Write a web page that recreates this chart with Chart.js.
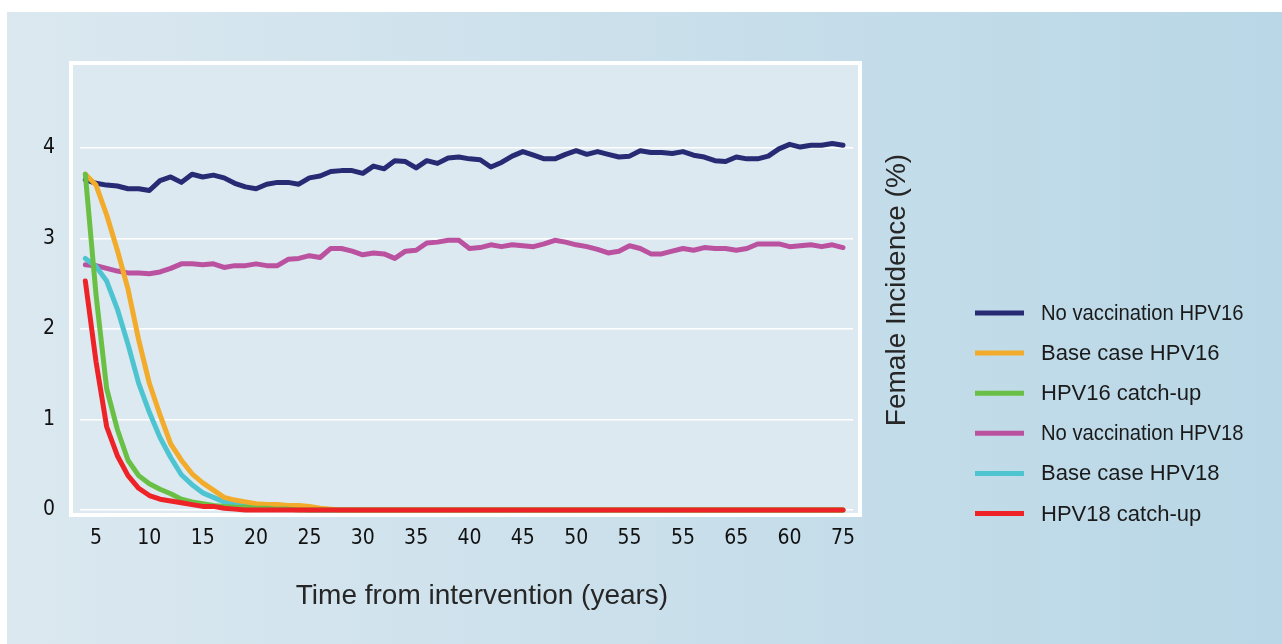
<!DOCTYPE html>
<html>
<head>
<meta charset="utf-8">
<script src="https://cdn.jsdelivr.net/npm/chart.js@4"></script>
<style>
  html, body { margin: 0; padding: 0; background: #fff; }
  #wrap { width: 1282px; height: 644px; position: relative; }
</style>
</head>
<body>
<div id="wrap"><canvas id="GraficoIncidencia"></canvas></div>
<script>
// years from intervention, one point per year
const years = [
  4, 5, 6, 7, 8, 9, 10, 11, 12, 13,
  14, 15, 16, 17, 18, 19, 20, 21, 22, 23,
  24, 25, 26, 27, 28, 29, 30, 31, 32, 33,
  34, 35, 36, 37, 38, 39, 40, 41, 42, 43,
  44, 45, 46, 47, 48, 49, 50, 51, 52, 53,
  54, 55, 56, 57, 58, 59, 60, 61, 62, 63,
  64, 65, 66, 67, 68, 69, 70, 71, 72, 73,
  74, 75
];

// tick positions and the labels as printed (yes, 55 twice and 65 before 60)
const tickYears = [5, 10, 15, 20, 25, 30, 35, 40, 45, 50, 55, 60, 65, 70, 75];
const tickLabels = ['5', '10', '15', '20', '25', '30', '35', '40', '45', '50', '55', '55', '65', '60', '75'];
const yTicks = [0, 1, 2, 3, 4];

const noVacc16 = [
  3.65, 3.61, 3.59, 3.58, 3.55, 3.55, 3.53, 3.64, 3.68, 3.62,
  3.71, 3.68, 3.70, 3.67, 3.61, 3.57, 3.55, 3.60, 3.62, 3.62,
  3.60, 3.67, 3.69, 3.74, 3.75, 3.75, 3.72, 3.80, 3.77, 3.86,
  3.85, 3.78, 3.86, 3.83, 3.89, 3.90, 3.88, 3.87, 3.79, 3.84,
  3.91, 3.96, 3.92, 3.88, 3.88, 3.93, 3.97, 3.93, 3.96, 3.93,
  3.90, 3.91, 3.97, 3.95, 3.95, 3.94, 3.96, 3.92, 3.90, 3.86,
  3.85, 3.90, 3.88, 3.88, 3.91, 3.99, 4.04, 4.01, 4.03, 4.03,
  4.05, 4.03
];
const baseCase16 = [
  3.71, 3.59, 3.26, 2.87, 2.44, 1.88, 1.40, 1.05, 0.73, 0.55,
  0.40, 0.30, 0.22, 0.14, 0.11, 0.09, 0.07, 0.06, 0.06, 0.05,
  0.05, 0.04, 0.02, 0.01, 0, 0, 0, 0, 0, 0,
  0, 0, 0, 0, 0, 0, 0, 0, 0, 0,
  0, 0, 0, 0, 0, 0, 0, 0, 0, 0,
  0, 0, 0, 0, 0, 0, 0, 0, 0, 0,
  0, 0, 0, 0, 0, 0, 0, 0, 0, 0,
  0, 0
];
const catchUp16 = [
  3.71, 2.38, 1.34, 0.89, 0.55, 0.38, 0.29, 0.23, 0.18, 0.12,
  0.09, 0.07, 0.05, 0.04, 0.03, 0.03, 0.02, 0.02, 0.01, 0.01,
  0, 0, 0, 0, 0, 0, 0, 0, 0, 0,
  0, 0, 0, 0, 0, 0, 0, 0, 0, 0,
  0, 0, 0, 0, 0, 0, 0, 0, 0, 0,
  0, 0, 0, 0, 0, 0, 0, 0, 0, 0,
  0, 0, 0, 0, 0, 0, 0, 0, 0, 0,
  0, 0
];
const noVacc18 = [
  2.71, 2.70, 2.67, 2.64, 2.62, 2.62, 2.61, 2.63, 2.67, 2.72,
  2.72, 2.71, 2.72, 2.68, 2.70, 2.70, 2.72, 2.70, 2.70, 2.77,
  2.78, 2.81, 2.79, 2.89, 2.89, 2.86, 2.82, 2.84, 2.83, 2.78,
  2.86, 2.87, 2.95, 2.96, 2.98, 2.98, 2.89, 2.90, 2.93, 2.91,
  2.93, 2.92, 2.91, 2.94, 2.98, 2.96, 2.93, 2.91, 2.88, 2.84,
  2.86, 2.92, 2.89, 2.83, 2.83, 2.86, 2.89, 2.87, 2.90, 2.89,
  2.89, 2.87, 2.89, 2.94, 2.94, 2.94, 2.91, 2.92, 2.93, 2.91,
  2.93, 2.90
];
const baseCase18 = [
  2.78, 2.69, 2.53, 2.22, 1.83, 1.40, 1.08, 0.80, 0.58, 0.39,
  0.28, 0.19, 0.14, 0.09, 0.07, 0.05, 0.04, 0.03, 0.03, 0.02,
  0.01, 0, 0, 0, 0, 0, 0, 0, 0, 0,
  0, 0, 0, 0, 0, 0, 0, 0, 0, 0,
  0, 0, 0, 0, 0, 0, 0, 0, 0, 0,
  0, 0, 0, 0, 0, 0, 0, 0, 0, 0,
  0, 0, 0, 0, 0, 0, 0, 0, 0, 0,
  0, 0
];
const catchUp18 = [
  2.53, 1.64, 0.92, 0.60, 0.38, 0.24, 0.16, 0.12, 0.10, 0.08,
  0.06, 0.04, 0.04, 0.02, 0.01, 0, 0, 0, 0, 0,
  0, 0, 0, 0, 0, 0, 0, 0, 0, 0,
  0, 0, 0, 0, 0, 0, 0, 0, 0, 0,
  0, 0, 0, 0, 0, 0, 0, 0, 0, 0,
  0, 0, 0, 0, 0, 0, 0, 0, 0, 0,
  0, 0, 0, 0, 0, 0, 0, 0, 0, 0,
  0, 0
];

const xTitle = 'Time from intervention (years)';
const yTitle = 'Female Incidence (%)';

function serie(label, values, color, order) {
  return {
    label: label,
    data: years.map((y, i) => ({ x: y, y: values[i] })),
    borderColor: color,
    backgroundColor: color,
    borderWidth: 5,
    pointRadius: 0,
    tension: 0,
    borderJoinStyle: 'round',
    borderCapStyle: 'round',
    fill: false,
    order: order
  };
}

// background panel, plot frame, titles and the legend on the right
const moldura = {
  id: 'moldura',
  beforeDraw(chart) {
    const ctx = chart.ctx;
    const a = chart.chartArea;
    ctx.save();
    ctx.fillStyle = '#ffffff';
    ctx.fillRect(0, 0, chart.width, chart.height);
    const g = ctx.createLinearGradient(7, 0, chart.width, 0);
    g.addColorStop(0, '#dbe8f0');
    g.addColorStop(1, '#b9d7e6');
    ctx.fillStyle = g;
    ctx.fillRect(7, 12, chart.width - 7, chart.height - 12);
    ctx.fillStyle = '#dce9f1';
    ctx.fillRect(a.left - 9, a.top - 1, a.right - a.left + 16, a.bottom - a.top + 1);
    ctx.strokeStyle = '#ffffff';
    ctx.lineWidth = 4;
    ctx.strokeRect(a.left - 9, a.top - 1, a.right - a.left + 16, a.bottom - a.top + 1);
    ctx.restore();
  },
  afterDraw(chart) {
    const ctx = chart.ctx;
    ctx.save();
    ctx.fillStyle = '#262626';
    ctx.textBaseline = 'middle';
    ctx.textAlign = 'center';
    ctx.font = '28px "Liberation Sans", Arial, sans-serif';
    ctx.fillText(xTitle, 482, 596);
    ctx.save();
    ctx.translate(897, 290);
    ctx.rotate(-Math.PI / 2);
    ctx.fillText(yTitle, 0, 0);
    ctx.restore();

    ctx.textAlign = 'left';
    ctx.font = '22px "Liberation Sans", Arial, sans-serif';
    chart.data.datasets.forEach((ds, i) => {
      const y = 313 + i * 40.1;
      ctx.strokeStyle = ds.borderColor;
      ctx.lineWidth = 5;
      ctx.beginPath();
      ctx.moveTo(975, y);
      ctx.lineTo(1024, y);
      ctx.stroke();
      ctx.save();
      ctx.translate(1041, y);
      if (ds.label.indexOf('No vaccination') === 0) ctx.scale(0.92, 1);
      ctx.fillStyle = '#1a1a1a';
      ctx.fillText(ds.label, 0, 1);
      ctx.restore();
    });
    ctx.restore();
  }
};

const fonteEixo = {
  family: "'DejaVu Sans Condensed', 'Liberation Sans Narrow', sans-serif",
  size: 21
};

new Chart(document.getElementById('GraficoIncidencia'), {
  type: 'line',
  data: {
    datasets: [
      serie('No vaccination HPV16', noVacc16, '#262b74', 6),
      serie('Base case HPV16', baseCase16, '#f2ab2a', 3),
      serie('HPV16 catch-up', catchUp16, '#6abf45', 2),
      serie('No vaccination HPV18', noVacc18, '#bb52a0', 5),
      serie('Base case HPV18', baseCase18, '#4fc4d1', 4),
      serie('HPV18 catch-up', catchUp18, '#ee2328', 1)
    ]
  },
  options: {
    responsive: true,
    maintainAspectRatio: false,
    animation: false,
    devicePixelRatio: 1,
    layout: { padding: { left: 0, top: 64, right: 429, bottom: 0 } },
    plugins: {
      legend: { display: false },
      tooltip: { enabled: false }
    },
    scales: {
      x: {
        type: 'linear',
        min: 3.5,
        max: 75.94,
        afterFit: (s) => { s.height = 129; },
        afterBuildTicks: (axis) => { axis.ticks = tickYears.map(v => ({ value: v })); },
        grid: { display: false, drawTicks: false },
        border: { display: false },
        ticks: {
          padding: 11,
          maxRotation: 0,
          autoSkip: false,
          color: '#111111',
          font: fonteEixo,
          callback: (value, index) => tickLabels[index]
        }
      },
      y: {
        type: 'linear',
        min: -0.055,
        max: 4.928,
        afterFit: (s) => { s.width = 80; },
        afterBuildTicks: (axis) => { axis.ticks = yTicks.map(v => ({ value: v })); },
        grid: { color: '#ffffff', lineWidth: 1.5, drawTicks: false },
        border: { display: false },
        ticks: {
          padding: 25,
          color: '#111111',
          font: fonteEixo,
          callback: (value) => String(value)
        }
      }
    }
  },
  plugins: [moldura]
});
</script>
</body>
</html>
